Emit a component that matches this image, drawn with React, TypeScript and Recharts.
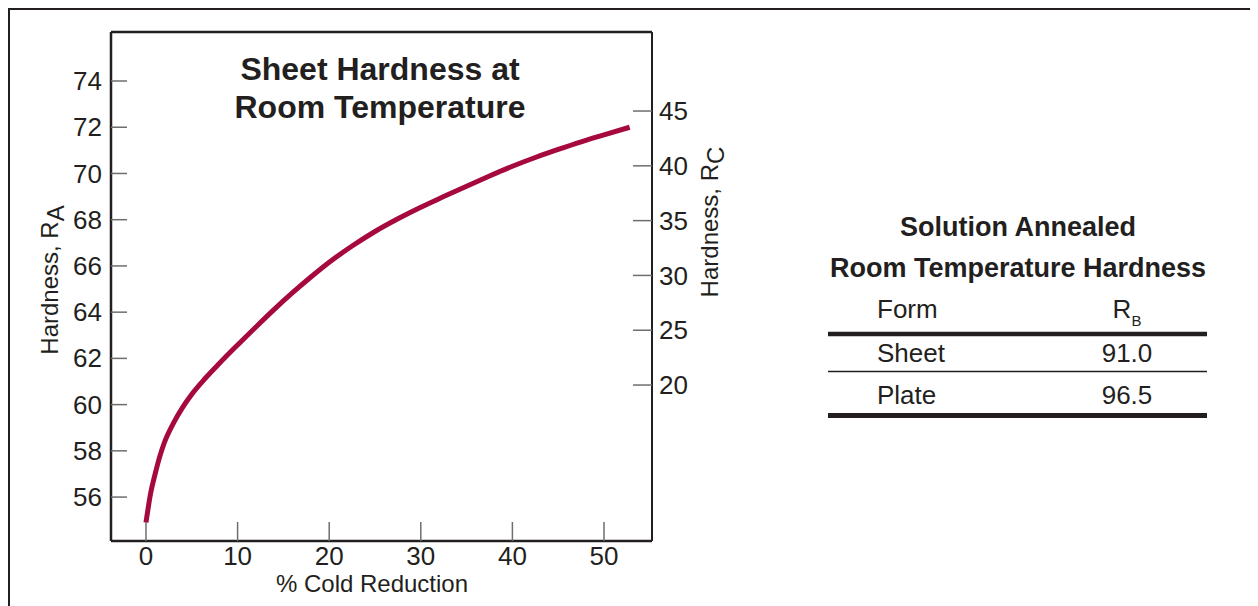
import { LineChart, Line, XAxis, YAxis, ReferenceLine } from "recharts";

// % cold reduction vs. Rockwell A hardness
const reduction = [
  0, 0.5, 1, 1.5, 2, 3, 4, 5, 6.5, 8, 10, 12, 14, 16, 18, 20, 22.5, 25, 27.5,
  30, 32.5, 35, 37.5, 40, 42.5, 45, 47.5, 50, 52.8,
];
const hardnessRA = [
  54.9, 56.15, 57.0, 57.75, 58.35, 59.2, 59.88, 60.45, 61.15, 61.78, 62.58,
  63.36, 64.12, 64.84, 65.52, 66.16, 66.86, 67.49, 68.04, 68.54, 69.0, 69.45,
  69.89, 70.31, 70.69, 71.04, 71.37, 71.67, 72.0,
];

const reductionTicks = [0, 10, 20, 30, 40, 50];
const raTicks = [56, 58, 60, 62, 64, 66, 68, 70, 72, 74];
const rcTicks = [20, 25, 30, 35, 40, 45];

const titleLines = ["Sheet Hardness at", "Room Temperature"];
const tableTitle = ["Solution Annealed", "Room Temperature Hardness"];
const tableRows = [
  { form: "Sheet", rb: "91.0" },
  { form: "Plate", rb: "96.5" },
];

const data = reduction.map((x, i) => ({ x, ra: hardnessRA[i] }));

const FONT = "'Liberation Sans', Arial, Helvetica, sans-serif";
const INK = "#231f20";
const TICK = "#6d6e71";
const CURVE = "#a6093d";

const RA_DOMAIN: [number, number] = [54.1, 76.12];
const RC_DOMAIN: [number, number] = [5.77, 52.21];
const X_DOMAIN: [number, number] = [-3.82, 55.24];

const LeftTick = (p: any) => (
  <g>
    <line x1={p.x} x2={p.x + 16} y1={p.y} y2={p.y} stroke={TICK} strokeWidth={1.5} />
    <text x={p.x - 9} y={p.y} dy="0.35em" textAnchor="end" fontSize={26} fill={INK} fontFamily={FONT}>
      {p.payload.value}
    </text>
  </g>
);

const RightTick = (p: any) => (
  <g>
    <line x1={p.x - 19} x2={p.x} y1={p.y} y2={p.y} stroke={TICK} strokeWidth={1.5} />
    <text x={p.x + 7} y={p.y} dy="0.35em" textAnchor="start" fontSize={26} fill={INK} fontFamily={FONT}>
      {p.payload.value}
    </text>
  </g>
);

const BottomTick = (p: any) => (
  <g>
    <line x1={p.x} x2={p.x} y1={p.y - 19} y2={p.y} stroke={TICK} strokeWidth={1.5} />
    <text x={p.x} y={p.y + 24} textAnchor="middle" fontSize={26} fill={INK} fontFamily={FONT}>
      {p.payload.value}
    </text>
  </g>
);

export default function App() {
  return (
    <div
      style={{
        position: "relative",
        width: 1246,
        height: 598,
        boxSizing: "border-box",
        borderTop: "2px solid " + INK,
        borderLeft: "2px solid " + INK,
        borderRight: "3px solid " + INK,
        background: "#fff",
        fontFamily: FONT,
      }}
    >
      <div style={{ position: "absolute", left: 0, top: 0 }}>
        <LineChart
          width={800}
          height={588}
          data={data}
          margin={{ top: 22, right: 98, bottom: 7, left: 41 }}
        >
          <XAxis
            dataKey="x"
            type="number"
            domain={X_DOMAIN}
            ticks={reductionTicks}
            allowDataOverflow
            height={50}
            tickSize={0}
            tickMargin={0}
            tickLine={false}
            tick={<BottomTick />}
            axisLine={{ stroke: INK, strokeWidth: 2.5 }}
          />
          <YAxis
            yAxisId="ra"
            type="number"
            domain={RA_DOMAIN}
            ticks={raTicks}
            allowDataOverflow
            width={60}
            tickSize={0}
            tickMargin={0}
            tickLine={false}
            tick={<LeftTick />}
            axisLine={{ stroke: INK, strokeWidth: 2.5 }}
          />
          <YAxis
            yAxisId="rc"
            orientation="right"
            type="number"
            domain={RC_DOMAIN}
            ticks={rcTicks}
            allowDataOverflow
            width={60}
            tickSize={0}
            tickMargin={0}
            tickLine={false}
            tick={<RightTick />}
            axisLine={{ stroke: INK, strokeWidth: 2 }}
          />
          <ReferenceLine yAxisId="ra" y={RA_DOMAIN[1]} stroke={INK} strokeWidth={2.5} />
          <Line
            yAxisId="ra"
            dataKey="ra"
            type="monotone"
            stroke={CURVE}
            strokeWidth={5}
            dot={false}
            activeDot={false}
            isAnimationActive={false}
          />
        </LineChart>
      </div>

      <svg
        width={1241}
        height={596}
        style={{ position: "absolute", left: 0, top: 0, pointerEvents: "none" }}
        fontFamily={FONT}
        fill={INK}
      >
        {titleLines.map((t, i) => (
          <text key={t} x={370} y={69.5 + i * 38} textAnchor="middle" fontSize={32} fontWeight="bold">
            {t}
          </text>
        ))}

        <text x={362} y={582} textAnchor="middle" fontSize={24}>
          % Cold Reduction
        </text>

        <text x={40} y={270} dy="0.35em" textAnchor="middle" fontSize={24} transform="rotate(-90 40 270)">
          Hardness, R<tspan dy={6}>A</tspan>
        </text>

        <text x={700} y={212} dy="0.35em" textAnchor="middle" fontSize={24} transform="rotate(-90 700 212)">
          Hardness, R<tspan dy={6}>C</tspan>
        </text>

        {tableTitle.map((t, i) => (
          <text key={t} x={1008} y={226 + i * 41} textAnchor="middle" fontSize={27} fontWeight="bold">
            {t}
          </text>
        ))}
        <text x={867} y={308} fontSize={26}>
          Form
        </text>
        <text x={1117} y={308} textAnchor="middle" fontSize={26}>
          R<tspan dy={8} fontSize={15}>B</tspan>
        </text>
        <line x1={818} x2={1197} y1={324} y2={324} stroke={INK} strokeWidth={4.5} />
        {tableRows.map((r, i) => (
          <g key={r.form}>
            <text x={867} y={352 + i * 42} fontSize={26}>
              {r.form}
            </text>
            <text x={1117} y={352 + i * 42} textAnchor="middle" fontSize={26}>
              {r.rb}
            </text>
          </g>
        ))}
        <line x1={818} x2={1197} y1={361.5} y2={361.5} stroke={INK} strokeWidth={1.3} />
        <line x1={818} x2={1197} y1={405.5} y2={405.5} stroke={INK} strokeWidth={5} />
      </svg>
    </div>
  );
}
